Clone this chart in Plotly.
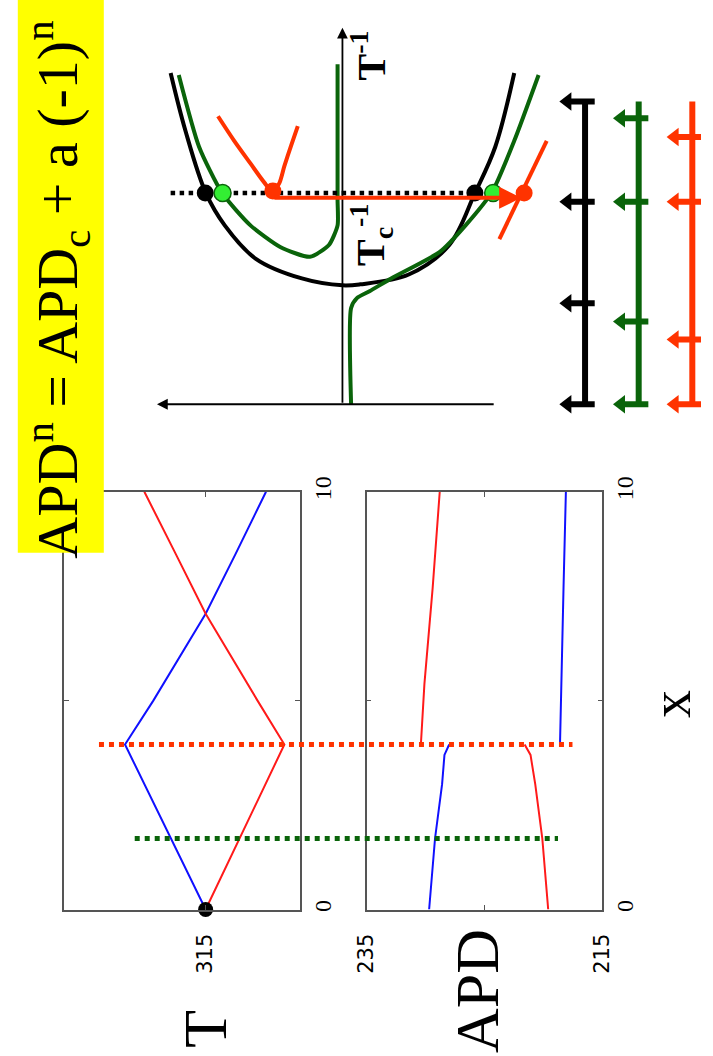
import plotly.graph_objects as go

W, H = 713, 1056

# ---------------- left panels: T(x) and APD(x) ----------------
pos_T = [0, 3.95, 5, 7.08, 8.5, 10]
T_blue = [315, 332.1, 326.1, 315, 308.7, 302.2]
T_red = [315, 298.3, 304.0, 315, 321.3, 328.0]

pos_apd_lo = [0, 1.7, 3.0, 3.7, 3.95]
apd_blue_lo = [229.7, 229.2, 228.6, 228.4, 228.0]
apd_red_lo = [219.6, 220.1, 220.7, 221.1, 221.6]
pos_apd_hi = [3.95, 5.4, 7.7, 10]
apd_red_hi = [230.4, 230.1, 229.4, 228.8]
apd_blue_hi = [218.6, 218.5, 218.3, 218.1]

node_pos = 3.95      # red dotted marker line
green_pos = 1.7      # green dotted marker line

# ---------------- bifurcation sketch: a vs 1/T ----------------
black_a = [1.27, 1.16, 1.01, 0.87, 0.64, 0.30, 0.0, -0.13, -0.49, -0.79, -0.98, -1.13, -1.27]
black_t = [3.37, 2.78, 2.15, 1.82, 1.48, 1.28, 1.21, 1.22, 1.32, 1.62, 2.15, 2.62, 3.37]

green1_a = [1.21, 1.06, 0.89, 0.68, 0.46, 0.24, 0.10, 0.036, 0.036, 0.036]
green1_t = [3.35, 2.62, 2.15, 1.82, 1.60, 1.50, 1.62, 1.82, 2.08, 3.46]
green2_a = [-0.064, -0.064, -0.107, -0.20, -0.36, -0.72, -0.91, -1.11, -1.27, -1.45]
green2_t = [0.0, 0.98, 1.08, 1.15, 1.28, 1.55, 1.82, 2.17, 2.68, 3.35]

red_par_a = [0.92, 0.80, 0.68, 0.58, 0.52, 0.47, 0.43, 0.38, 0.33]
red_par_t = [2.93, 2.68, 2.45, 2.26, 2.17, 2.24, 2.42, 2.63, 2.83]
red_seg_a = [-1.16, -1.51]
red_seg_t = [1.68, 2.68]

dot_t = 2.15
black_dots = [1.014, -0.979]
green_dots = [0.886, -1.114]
red_dots_a = [0.514, -1.343]
red_dots_t = [2.17, 2.15]
dotted_a = [1.27, -0.99]
arrow_from, arrow_to, arrow_t = 0.514, -1.321, 2.10

# ---------------- spatial ladders ----------------
ladder_x = [0, 1, 2]
ladder_colors = ["#000000", "#0a640a", "#ff3300"]
ladder_ticks = [
    [0.0, 0.334, 0.669, 1.0],
    [0.0, 0.273, 0.669, 0.945],
    [0.0, 0.214, 0.669, 0.883],
]

BLUE = "#1010ff"
RED = "#ff1a1a"
ORANGE = "#ff3300"
DGREEN = "#0a640a"
SERIF = "Liberation Serif"


def dx(px):
    return px / W


def dy(py):
    return 1 - py / H


fig = go.Figure()

# T panel
fig.add_trace(go.Scatter(x=T_blue, y=pos_T, mode="lines", line=dict(color=BLUE, width=2),
                         xaxis="x", yaxis="y"))
fig.add_trace(go.Scatter(x=T_red, y=pos_T, mode="lines", line=dict(color=RED, width=2),
                         xaxis="x", yaxis="y"))
fig.add_trace(go.Scatter(x=[T_blue[0]], y=[pos_T[0]], mode="markers",
                         marker=dict(color="black", size=15), cliponaxis=False,
                         xaxis="x", yaxis="y"))

# APD panel
for xs, ys, c in [(apd_blue_lo, pos_apd_lo, BLUE), (apd_red_lo, pos_apd_lo, RED),
                  (apd_red_hi, pos_apd_hi, RED), (apd_blue_hi, pos_apd_hi, BLUE)]:
    fig.add_trace(go.Scatter(x=xs, y=ys, mode="lines", line=dict(color=c, width=2),
                             xaxis="x2", yaxis="y2"))

# bifurcation sketch
fig.add_trace(go.Scatter(x=black_a, y=black_t, mode="lines", line=dict(color="black", width=4, shape="spline"),
                         xaxis="x3", yaxis="y3"))
fig.add_trace(go.Scatter(x=green1_a, y=green1_t, mode="lines", line=dict(color=DGREEN, width=4, shape="spline", smoothing=0.6),
                         xaxis="x3", yaxis="y3"))
fig.add_trace(go.Scatter(x=green2_a, y=green2_t, mode="lines", line=dict(color=DGREEN, width=4, shape="spline", smoothing=0.6),
                         xaxis="x3", yaxis="y3"))
fig.add_trace(go.Scatter(x=red_par_a, y=red_par_t, mode="lines", line=dict(color=ORANGE, width=4, shape="spline", smoothing=0.8),
                         xaxis="x3", yaxis="y3"))
fig.add_trace(go.Scatter(x=red_seg_a, y=red_seg_t, mode="lines", line=dict(color=ORANGE, width=4),
                         xaxis="x3", yaxis="y3"))
fig.add_trace(go.Scatter(x=dotted_a, y=[dot_t, dot_t], mode="lines", line=dict(color="black", width=4.5, dash="dot"),
                         xaxis="x3", yaxis="y3"))
fig.add_trace(go.Scatter(x=black_dots, y=[dot_t, dot_t], mode="markers", marker=dict(color="black", size=17),
                         cliponaxis=False, xaxis="x3", yaxis="y3"))
fig.add_trace(go.Scatter(x=green_dots, y=[dot_t, dot_t], mode="markers",
                         marker=dict(color="#33ee33", size=17, line=dict(color=DGREEN, width=1.5)),
                         cliponaxis=False, xaxis="x3", yaxis="y3"))
fig.add_trace(go.Scatter(x=red_dots_a, y=red_dots_t, mode="markers", marker=dict(color=ORANGE, size=17),
                         cliponaxis=False, xaxis="x3", yaxis="y3"))

# ladders
for lx, col, ticks in zip(ladder_x, ladder_colors, ladder_ticks):
    fig.add_trace(go.Scatter(x=[lx, lx], y=[0, 1], mode="lines", line=dict(color=col, width=6),
                             cliponaxis=False, xaxis="x4", yaxis="y4"))
    tx, ty = [], []
    for t in ticks:
        tx += [lx + 0.18, lx - 0.27, None]
        ty += [t, t, None]
    fig.add_trace(go.Scatter(x=tx, y=ty, mode="lines", line=dict(color=col, width=6),
                             cliponaxis=False, xaxis="x4", yaxis="y4"))
    fig.add_trace(go.Scatter(x=[lx - 0.33] * len(ticks), y=ticks, mode="markers",
                             marker=dict(symbol="triangle-left", color=col, size=16),
                             cliponaxis=False, xaxis="x4", yaxis="y4"))

frame = dict(showline=True, linecolor="#555555", linewidth=1.5, mirror="ticks", ticks="inside",
             ticklen=5, tickcolor="#555555", showgrid=False, zeroline=False, tickangle=-90,
             fixedrange=True)
sans_tick = dict(family="DejaVu Sans", size=21, color="black")
serif_tick = dict(family=SERIF, size=24, color="black")

hidden = dict(visible=False, showgrid=False, zeroline=False, fixedrange=True)

fig.update_layout(
    width=W, height=H, margin=dict(l=0, r=0, t=0, b=0),
    paper_bgcolor="white", plot_bgcolor="rgba(0,0,0,0)", showlegend=False,
    xaxis=dict(domain=[dx(54), dx(298)], range=[345, 295], anchor="y",
               tickvals=[315], ticktext=["315"], tickfont=sans_tick, ticklabelstandoff=14, **frame),
    yaxis=dict(domain=[dy(909), dy(484)], range=[0, 10], anchor="x", side="right",
               tickvals=[0, 5, 10], ticktext=["0", "", "10"], tickfont=serif_tick, **frame),
    xaxis2=dict(domain=[dx(367), dx(611)], range=[235, 215], anchor="y2",
                tickvals=[235, 225, 215], ticktext=["235", "", "215"], tickfont=sans_tick,
                ticklabelstandoff=14, **frame),
    yaxis2=dict(domain=[dy(909), dy(484)], range=[0, 10], anchor="x2", side="right",
                tickvals=[0, 5, 10], ticktext=["0", "", "10"], tickfont=serif_tick, **frame),
    xaxis3=dict(domain=[dx(130), dx(570)], range=[1.514, -1.629], anchor="y3", **hidden),
    yaxis3=dict(domain=[dy(405), dy(5)], range=[-0.1, 3.9], anchor="x3", **hidden),
    xaxis4=dict(domain=[dx(560), dx(713)], range=[-0.595, 2.162], anchor="y4", **hidden),
    yaxis4=dict(domain=[dy(410), dy(70)], range=[-0.0487, 1.0552], anchor="x4", **hidden),
)

# dotted marker lines crossing both panels
fig.add_shape(type="line", xref="paper", yref="y", x0=dx(90), x1=dx(580), y0=node_pos, y1=node_pos,
              line=dict(color=ORANGE, width=5, dash="dot"))
fig.add_shape(type="line", xref="paper", yref="y", x0=dx(127), x1=dx(565), y0=green_pos, y1=green_pos,
              line=dict(color=DGREEN, width=5, dash="dot"))

# title box
fig.add_shape(type="rect", xref="paper", yref="paper", x0=dx(6), x1=dx(95), y0=dy(546), y1=1.02,
              fillcolor="#ffff00", line=dict(width=0), layer="above")


def label(text, x, y, size, xref="paper", yref="paper", **kw):
    fig.add_annotation(xref=xref, yref=yref, x=x, y=y, text=text, showarrow=False, textangle=-90,
                       xanchor="center", yanchor="middle",
                       font=dict(family=SERIF, size=size, color="black"), **kw)


label("APD<sup>n</sup> = APD<sub>c</sub> + a (-1)<sup>n</sup>", dx(48), dy(278), 58)
label("T", dx(200), dy(1030), 62)
label("APD", dx(481), dy(992), 62)
label("x", dx(682), dy(700), 56)

# axes of the sketch
fig.add_annotation(xref="x3", yref="y3", axref="x3", ayref="y3", x=1.371, y=0, ax=-1.129, ay=0,
                   text="", showarrow=True, arrowhead=2, arrowsize=1.2, arrowwidth=1.8, arrowcolor="black")
fig.add_annotation(xref="x3", yref="y3", axref="x3", ayref="y3", x=0, y=3.83, ax=0, ay=0,
                   text="", showarrow=True, arrowhead=2, arrowsize=1.2, arrowwidth=1.8, arrowcolor="black")
fig.add_annotation(xref="x3", yref="y3", axref="x3", ayref="y3", x=arrow_to, y=arrow_t, ax=arrow_from, ay=arrow_t,
                   text="", showarrow=True, arrowhead=2, arrowsize=1.1, arrowwidth=4, arrowcolor=ORANGE)

label("a", 1.214, -0.15, 54, xref="x3", yref="y3")
label("<b>T<sup>-1</sup></b>", -0.19, 3.55, 40, xref="x3", yref="y3")
label("<b>T<sub>c</sub><sup>-1</sup></b>", -0.21, 1.72, 40, xref="x3", yref="y3")

fig.write_html("out.html", post_script="document.body.style.margin='0';document.body.style.overflow='hidden';")
